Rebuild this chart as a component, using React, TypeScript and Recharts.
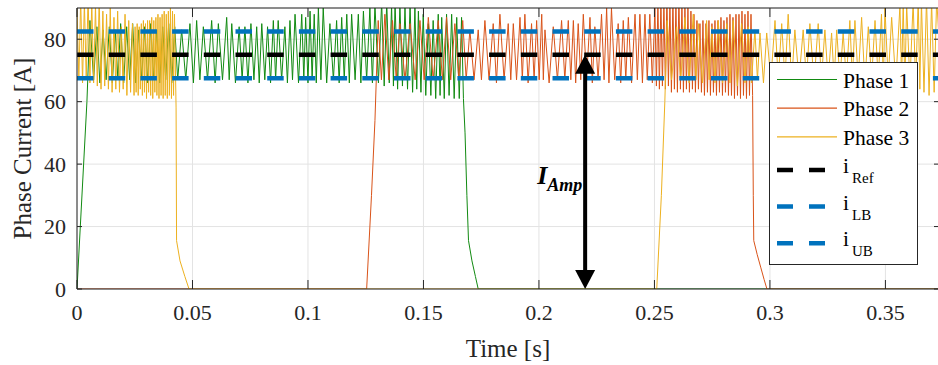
import { LineChart, Line, XAxis, YAxis, CartesianGrid, ReferenceLine } from "recharts";

const xTicks = [0, 0.05, 0.1, 0.15, 0.2, 0.25, 0.3, 0.35];
const yTicks = [0, 20, 40, 60, 80];
const xMax = 0.3732;
const yMax = 90;

const iRef = 75;
const iLB = 67.5;
const iUB = 82.5;
const ampTime = 0.22;

// turning points: [time in ms, current in A]
const phase1Points = [
  [0, 0], [4.3, 60], [5.6, 86],
  [7.2, 67], [8.6, 84], [9.9, 66], [11.3, 83], [12.6, 67], [14.0, 84], [15.3, 66], [16.6, 83], [17.7, 67], [18.9, 85],
  [20.2, 66], [21.5, 84], [22.8, 67], [24.1, 85], [25.4, 66], [26.7, 83], [28.0, 67], [29.3, 84], [30.6, 66], [31.9, 85],
  [33.2, 67], [34.5, 83], [35.8, 66], [37.1, 84], [38.4, 67], [39.7, 85], [41.0, 66], [42.3, 84], [43.6, 67],
  [45.3, 83], [47.1, 67], [48.9, 85], [50.4, 66], [51.8, 86], [53.2, 67], [54.7, 84], [56.5, 67], [58.3, 86], [59.8, 66],
  [61.2, 85], [63.0, 67], [64.8, 87], [65.9, 67], [67.0, 85], [68.6, 66], [70.2, 84], [71.5, 67], [72.7, 84], [74.0, 66],
  [75.3, 85], [76.6, 67], [77.8, 84], [78.9, 66], [80.0, 85], [81.3, 67], [82.5, 84], [83.8, 66], [85.0, 86], [86.0, 67],
  [87.1, 86], [88.6, 67], [90.0, 84], [91.1, 66], [92.2, 86], [93.3, 67], [94.4, 88], [95.9, 66], [97.3, 88], [98.2, 67],
  [99.0, 87], [100.0, 66], [100.9, 89], [101.8, 67], [102.7, 88], [103.6, 66], [104.5, 90], [105.6, 67], [106.6, 90],
  [108.1, 66], [109.5, 85], [111.0, 67], [112.4, 86], [113.5, 66], [114.6, 87], [115.7, 67], [116.8, 88], [117.9, 66],
  [118.9, 88], [120.4, 67], [121.8, 88], [122.9, 66], [124.0, 89], [125.4, 67], [126.8, 90],
  [127.9, 66], [129.0, 91], [130.5, 66], [131.9, 92], [133.0, 65], [134.1, 92], [135.2, 66], [136.2, 91], [137.0, 65],
  [137.7, 92], [138.8, 64], [139.8, 91], [140.9, 65], [142.0, 90], [143.1, 64], [144.2, 91], [145.3, 63], [146.3, 90],
  [147.1, 64], [147.8, 89], [148.9, 63], [149.9, 88], [151.0, 62], [152.1, 85], [153.2, 62], [154.2, 86], [155.3, 61],
  [156.4, 88], [157.2, 62], [157.9, 87], [159.0, 61], [160.0, 88], [161.1, 62], [162.2, 88], [163.3, 61], [164.4, 87],
  [165.5, 61], [166.5, 87], [167.3, 61],
  [168.0, 50], [168.8, 30], [169.5, 15.5], [171.0, 9], [172.5, 4], [173.7, 0], [373.2, 0],
];

const phase2Points = [
  [0, 0], [125.4, 0], [127.5, 30], [129.0, 54], [130.4, 86],
  [131.8, 67], [133.3, 88], [135.0, 67], [136.6, 86], [138.2, 67], [139.8, 85], [142.0, 67], [144.2, 85], [146.4, 67],
  [148.5, 86], [150.3, 67], [152.1, 87], [154.2, 67], [156.4, 86], [158.2, 67], [160.0, 87], [161.8, 67], [163.6, 85],
  [165.3, 67], [167.0, 86], [168.5, 67],
  [170.1, 83], [171.9, 67], [173.7, 83], [175.1, 67], [176.6, 86], [178.4, 67], [180.2, 85], [181.6, 66], [183.1, 88],
  [184.9, 67], [186.7, 85], [187.8, 67], [188.9, 85], [190.3, 67], [191.8, 87], [192.8, 67], [193.9, 88], [195.3, 66],
  [196.8, 85], [197.9, 67], [199.0, 86], [200.1, 67], [201.2, 88], [201.9, 67], [202.6, 83], [204.4, 66], [206.2, 84],
  [208.0, 67], [209.8, 86], [211.2, 67], [212.7, 86], [213.8, 67], [214.9, 86], [215.9, 66], [217.0, 85], [218.1, 67],
  [219.2, 88], [220.6, 67], [222.1, 87], [223.1, 66], [224.2, 84], [225.6, 67], [227.1, 88], [228.2, 67], [229.3, 90],
  [230.3, 66], [231.4, 90], [232.8, 67], [234.3, 85], [235.4, 66], [236.5, 86], [237.6, 67], [238.7, 87], [240.1, 66],
  [241.6, 88], [242.6, 67], [243.7, 88], [244.8, 66], [245.9, 88], [246.9, 67], [248.0, 88], [249.1, 66], [250.2, 90],
  [250.85, 65], [251.5, 92], [252.15, 64], [252.8, 93], [253.45, 65], [254.1, 92], [254.75, 64], [255.4, 94],
  [256.05, 65], [256.7, 92], [257.35, 63], [258.0, 93], [258.65, 64], [259.3, 92], [259.95, 63], [260.6, 94],
  [261.25, 64], [261.9, 92], [262.55, 63], [263.2, 91], [263.85, 64], [264.5, 90], [265.15, 63], [265.8, 89],
  [266.45, 64], [267.1, 88], [267.75, 63], [268.4, 86], [269.05, 64], [269.7, 85], [270.35, 63], [271.0, 86],
  [271.65, 62], [272.3, 85], [272.95, 63], [273.6, 86], [274.25, 62], [274.9, 85], [275.55, 63], [276.2, 86],
  [276.85, 62], [277.5, 86], [278.15, 63], [278.8, 87], [279.45, 62], [280.1, 86], [280.75, 63], [281.4, 87],
  [282.05, 62], [282.7, 88], [283.35, 62], [284.0, 87], [284.65, 61], [285.3, 88], [285.95, 62], [286.6, 88],
  [287.25, 61], [287.9, 89], [288.55, 62], [289.2, 88], [289.85, 61], [290.5, 89], [291.15, 62], [291.8, 88],
  [292.5, 62],
  [292.8, 30], [293.0, 15.5], [294.5, 11], [296.0, 7], [297.5, 3], [298.7, 0], [373.2, 0],
];

const phase3Points = [
  [0, 90], [0.8, 67], [1.6, 93], [2.4, 66], [3.2, 92], [4.0, 67], [4.8, 94], [5.6, 66], [6.4, 92], [7.2, 66], [8.0, 91],
  [8.8, 65], [9.6, 93], [10.4, 64], [11.2, 89], [12.0, 65], [12.8, 88], [13.6, 64], [14.4, 90], [15.2, 63], [16.0, 87],
  [16.8, 64], [17.6, 89], [18.4, 63], [19.2, 84], [20.0, 64], [20.8, 88], [21.6, 62], [22.4, 86], [23.2, 63], [24.0, 85],
  [24.7, 62], [25.15, 84], [25.6, 63], [26.05, 85], [26.5, 62], [26.95, 84], [27.4, 64], [27.85, 85], [28.3, 62],
  [28.75, 86], [29.2, 63], [29.65, 85], [30.1, 61], [30.55, 86], [31.0, 63], [31.45, 86], [31.9, 62], [32.35, 87],
  [32.8, 61], [33.25, 86], [33.7, 63], [34.15, 87], [34.6, 62], [35.05, 88], [35.5, 61], [35.95, 87], [36.4, 62],
  [36.85, 88], [37.3, 61], [37.75, 89], [38.2, 62], [38.65, 88], [39.1, 61], [39.55, 89], [40.0, 62], [40.45, 90],
  [40.9, 61], [41.35, 89], [41.8, 62], [42.2, 88],
  [42.9, 58], [43.1, 15.5], [44.6, 9], [46.7, 4], [48.5, 0], [251.0, 0],
  [253.0, 30], [254.5, 60], [255.5, 86],
  [257.4, 67], [259.6, 84], [261.4, 67], [263.2, 87], [265.0, 66], [266.8, 88], [268.0, 67], [269.0, 85], [270.8, 66],
  [272.6, 86], [273.7, 67], [274.8, 84], [276.2, 66], [277.6, 86], [279.5, 66], [281.3, 85], [282.7, 66], [284.1, 86],
  [285.9, 65], [287.7, 85], [289.2, 66], [290.6, 84], [292.0, 66], [293.5, 83], [294.6, 67], [295.7, 82], [297.2, 66],
  [298.6, 82], [300.4, 67], [302.2, 86], [303.6, 67], [305.1, 85], [306.5, 67], [307.9, 88], [309.4, 66], [310.8, 83],
  [312.6, 67], [314.4, 83], [315.8, 67], [317.3, 85], [319.1, 66], [320.9, 85], [322.3, 67], [323.8, 83], [325.2, 67],
  [326.7, 82], [327.8, 67], [328.9, 83], [330.3, 67], [331.7, 82], [333.1, 67], [334.6, 86], [335.7, 67], [336.8, 86],
  [338.2, 67], [339.7, 87], [341.1, 66], [342.6, 84], [344.0, 67], [345.5, 86], [346.9, 67], [348.3, 88], [349.1, 66],
  [349.8, 90], [351.2, 67], [352.7, 87], [354.5, 66], [356.3, 91], [357.0, 66], [357.7, 92], [358.4, 65], [359.2, 91],
  [360.6, 66], [362.0, 92], [363.1, 65], [364.2, 93], [364.9, 64], [365.6, 92], [366.7, 63], [367.8, 93], [368.9, 62],
  [370.0, 92], [371.1, 63], [372.2, 93], [373.2, 80],
];

const toSeries = (pts: number[][]) => pts.map(([ms, a]) => ({ t: ms / 1000, i: a }));
const levelSeries = (v: number) => [{ t: 0, i: v }, { t: xMax, i: v }];

const phases = [
  { name: "Phase 1", color: "#118a11", data: toSeries(phase1Points) },
  { name: "Phase 2", color: "#D95319", data: toSeries(phase2Points) },
  { name: "Phase 3", color: "#EDB120", data: toSeries(phase3Points) },
];

const levels = [
  { sub: "Ref", color: "#000000", data: levelSeries(iRef) },
  { sub: "LB", color: "#0072BD", data: levelSeries(iLB) },
  { sub: "UB", color: "#0072BD", data: levelSeries(iUB) },
];

const FONT = "'Liberation Serif', serif";
const AXIS = "#262626";
const serif = { fontFamily: FONT };

const XTick = (p: any) => (
  <text x={p.x} y={p.y + 15.5} textAnchor="middle" fontSize={22} fill={AXIS} style={serif}>
    {String(p.payload.value)}
  </text>
);

const YTick = (p: any) => (
  <text x={p.x} y={p.y + 7.5} textAnchor="end" fontSize={22} fill={AXIS} style={serif}>
    {String(p.payload.value)}
  </text>
);

const AmpArrow = (p: any) => {
  const x = p.x1;
  const top = Math.min(p.y1, p.y2);
  const bottom = Math.max(p.y1, p.y2);
  const head = 19;
  const half = 10;
  const ty = bottom - (bottom - top) * 0.448;
  return (
    <g>
      <line x1={x} x2={x} y1={top + head - 1} y2={bottom - head + 1} stroke="#000" strokeWidth={4} />
      <polygon points={`${x},${top} ${x - half},${top + head} ${x + half},${top + head}`} fill="#000" />
      <polygon points={`${x},${bottom} ${x - half},${bottom - head} ${x + half},${bottom - head}`} fill="#000" />
      <text x={x - 48} y={ty} fontWeight="bold" fontStyle="italic" fontSize={26} fill="#000" style={serif}>
        I<tspan fontSize={18} dy={7}>Amp</tspan>
      </text>
    </g>
  );
};

const YTitle = (props: any) => {
  const vb = props.viewBox;
  const cx = vb.x + 31;
  const cy = vb.y + vb.height / 2;
  return (
    <text x={cx} y={cy} transform={`rotate(-90, ${cx}, ${cy})`} textAnchor="middle" fontSize={25} fill={AXIS} style={serif}>
      Phase Current [A]
    </text>
  );
};

const XTitle = (props: any) => {
  const vb = props.viewBox;
  return (
    <text x={vb.x + vb.width / 2} y={vb.y + 68} textAnchor="middle" fontSize={25} fill={AXIS} style={serif}>
      Time [s]
    </text>
  );
};

function LegendBox() {
  return (
    <svg width={150} height={204} style={{ position: "absolute", left: 769, top: 62, ...serif }}>
      <rect x={0.5} y={0.5} width={148} height={202} fill="#fff" stroke={AXIS} strokeWidth={1} />
      {phases.map((s, k) => {
        const y = 17.5 + k * 28.7;
        return (
          <g key={s.name}>
            <line x1={8} x2={68} y1={y} y2={y} stroke={s.color} strokeWidth={1.2} />
            <text x={74} y={y + 8} fontSize={21.5} fill="#000">{s.name}</text>
          </g>
        );
      })}
      {levels.map((s, k) => {
        const y = 108 + k * 36.6;
        return (
          <g key={s.sub}>
            <line x1={8} x2={68} y1={y} y2={y} stroke={s.color} strokeWidth={4.5} strokeDasharray="16 16" />
            <text x={74} y={y + 3} fontSize={21.5} fill="#000">
              i<tspan x={83} y={y + 13} fontSize={15}>{s.sub}</tspan>
            </text>
          </g>
        );
      })}
    </svg>
  );
}

export default function App() {
  return (
    <div style={{ position: "absolute", left: 0, top: 0, width: 938, height: 365, overflow: "hidden", background: "#fff", ...serif }}>
      <LineChart width={940} height={365} margin={{ top: 0, right: 0, bottom: 0, left: 0 }}>
        <CartesianGrid stroke="#e3e3e3" strokeWidth={1} />
        <XAxis
          type="number"
          dataKey="t"
          domain={[0, xMax]}
          ticks={xTicks}
          allowDataOverflow
          interval={0}
          height={76}
          tickSize={-9}
          tickMargin={24}
          stroke={AXIS}
          tick={XTick}
          label={{ content: XTitle }}
        />
        <XAxis
          xAxisId="top"
          orientation="top"
          type="number"
          dataKey="t"
          domain={[0, xMax]}
          ticks={xTicks}
          allowDataOverflow
          interval={0}
          height={8}
          tickSize={-9}
          stroke={AXIS}
          tick={() => <g />}
        />
        <YAxis
          type="number"
          domain={[0, yMax]}
          ticks={yTicks}
          allowDataOverflow
          interval={0}
          width={77}
          tickSize={-5}
          tickMargin={16}
          stroke={AXIS}
          tick={YTick}
          label={{ content: YTitle }}
        />
        <YAxis
          yAxisId="right"
          orientation="right"
          type="number"
          domain={[0, yMax]}
          ticks={yTicks}
          allowDataOverflow
          interval={0}
          width={1}
          tickSize={-5}
          stroke={AXIS}
          tick={() => <g />}
        />
        {phases.map((s) => (
          <Line
            key={s.name}
            data={s.data}
            dataKey="i"
            stroke={s.color}
            strokeWidth={1}
            dot={false}
            activeDot={false}
            isAnimationActive={false}
          />
        ))}
        {levels.map((s) => (
          <Line
            key={s.sub}
            data={s.data}
            dataKey="i"
            stroke={s.color}
            strokeWidth={4.5}
            strokeDasharray="16.5 15.2"
            dot={false}
            activeDot={false}
            isAnimationActive={false}
          />
        ))}
        <ReferenceLine
          segment={[{ x: ampTime, y: 0 }, { x: ampTime, y: iRef }]}
          shape={AmpArrow}
        />
      </LineChart>
      <LegendBox />
    </div>
  );
}
